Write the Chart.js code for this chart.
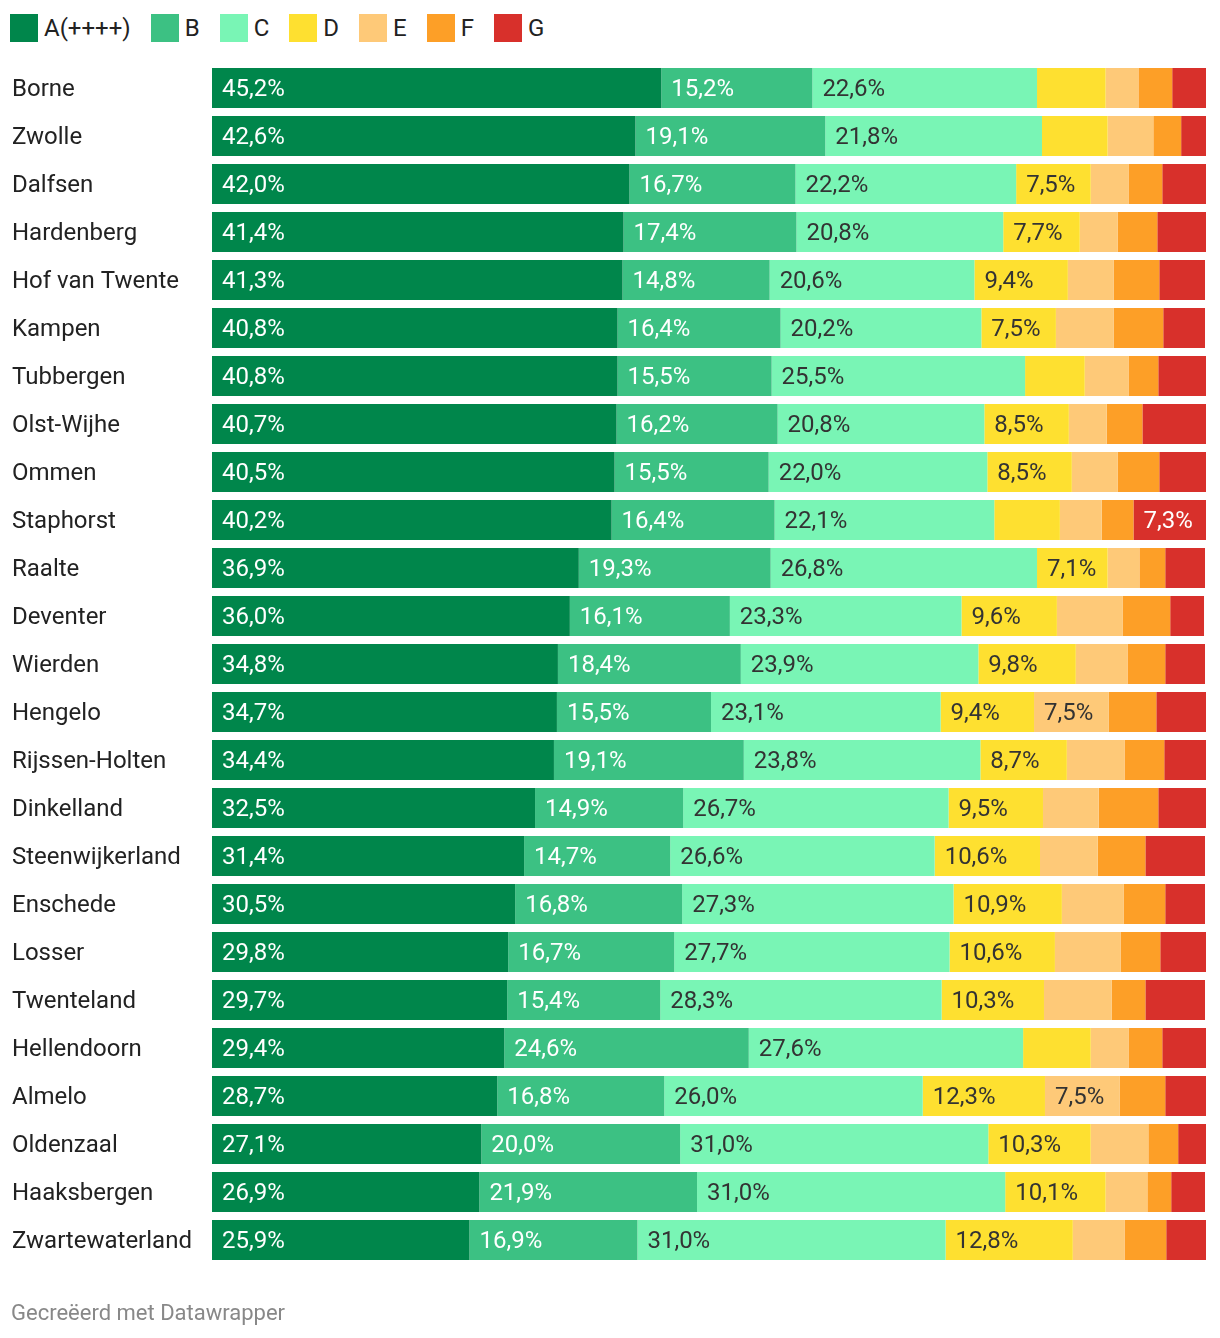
<!DOCTYPE html>
<html>
<head>
<meta charset="utf-8">
<script src="https://cdn.jsdelivr.net/npm/chart.js@4"></script>
<style>
  html, body { margin: 0; padding: 0; background: #fff; }
  body { width: 1220px; height: 1338px; position: relative; font-family: Roboto, sans-serif; overflow: hidden; }
  #legend { position: absolute; left: 10px; top: 14px; display: flex; align-items: center; font-size: 24px; color: #222; }
  #legend .item { display: flex; align-items: center; margin-right: 20px; }
  #legend .sw { width: 28px; height: 28px; margin-right: 6px; }
  #wrap { position: absolute; left: 0; top: 0; width: 1220px; height: 1338px; }
  #footer { position: absolute; left: 11px; top: 1300px; font-size: 22px; color: #888; }
</style>
</head>
<body>
<div id="legend"></div>
<div id="wrap"><canvas id="chart"></canvas></div>
<div id="footer">Gecreëerd met Datawrapper</div>
<script>
const gemeenten = ["Borne", "Zwolle", "Dalfsen", "Hardenberg", "Hof van Twente", "Kampen", "Tubbergen",
  "Olst-Wijhe", "Ommen", "Staphorst", "Raalte", "Deventer", "Wierden", "Hengelo", "Rijssen-Holten",
  "Dinkelland", "Steenwijkerland", "Enschede", "Losser", "Twenteland", "Hellendoorn", "Almelo",
  "Oldenzaal", "Haaksbergen", "Zwartewaterland"];

const labelA = ["A(++++)", "B", "C", "D", "E", "F", "G"];

const valA = [45.2, 42.6, 42.0, 41.4, 41.3, 40.8, 40.8, 40.7, 40.5, 40.2, 36.9, 36.0, 34.8, 34.7, 34.4, 32.5, 31.4, 30.5, 29.8, 29.7, 29.4, 28.7, 27.1, 26.9, 25.9];
const valB = [15.2, 19.1, 16.7, 17.4, 14.8, 16.4, 15.5, 16.2, 15.5, 16.4, 19.3, 16.1, 18.4, 15.5, 19.1, 14.9, 14.7, 16.8, 16.7, 15.4, 24.6, 16.8, 20.0, 21.9, 16.9];
const valC = [22.6, 21.8, 22.2, 20.8, 20.6, 20.2, 25.5, 20.8, 22.0, 22.1, 26.8, 23.3, 23.9, 23.1, 23.8, 26.7, 26.6, 27.3, 27.7, 28.3, 27.6, 26.0, 31.0, 31.0, 31.0];
const valD = [6.9, 6.6, 7.5, 7.7, 9.4, 7.5, 6.0, 8.5, 8.5, 6.6, 7.1, 9.6, 9.8, 9.4, 8.7, 9.5, 10.6, 10.9, 10.6, 10.3, 6.8, 12.3, 10.3, 10.1, 12.8];
const valE = [3.3, 4.6, 3.8, 3.8, 4.6, 5.8, 4.4, 3.8, 4.6, 4.2, 3.2, 6.6, 5.2, 7.5, 5.8, 5.6, 5.8, 6.2, 6.6, 6.8, 3.8, 7.5, 5.8, 4.2, 5.2];
const valF = [3.4, 2.8, 3.4, 4.0, 4.6, 5.0, 3.0, 3.6, 4.2, 3.2, 2.6, 4.8, 3.8, 4.8, 4.0, 6.0, 4.8, 4.2, 4.0, 3.4, 3.4, 4.6, 3.0, 2.4, 4.2];
const valG = [3.4, 2.6, 4.5, 5.0, 4.6, 4.2, 4.8, 6.4, 4.8, 7.3, 4.0, 3.4, 4.0, 5.0, 4.2, 4.9, 6.0, 4.0, 4.6, 6.0, 4.4, 4.2, 2.8, 3.4, 4.0];

const colors = ["#00864b", "#3cc183", "#79f5b5", "#fee030", "#fec978", "#fd9f27", "#d8302b"];
const textColors = ["#fff", "#fff", "#333", "#333", "#333", "#333", "#fff"];

// html legend
const legendEl = document.getElementById("legend");
labelA.forEach((name, i) => {
  const item = document.createElement("div");
  item.className = "item";
  item.innerHTML = `<div class="sw" style="background:${colors[i]}"></div><span>${name}</span>`;
  legendEl.appendChild(item);
});

const allValues = [valA, valB, valC, valD, valE, valF, valG];

const valueLabels = {
  id: "valueLabels",
  afterDatasetsDraw(chart) {
    const ctx = chart.ctx;
    ctx.save();
    ctx.font = "24px Roboto, sans-serif";
    ctx.textBaseline = "middle";
    ctx.textAlign = "left";
    chart.data.datasets.forEach((ds, di) => {
      const meta = chart.getDatasetMeta(di);
      meta.data.forEach((bar, i) => {
        const v = ds.data[i];
        if (v < 7) return;
        const left = Math.min(bar.x, bar.base);
        ctx.fillStyle = textColors[di];
        ctx.fillText(v.toFixed(1).replace(".", ",") + "%", left + 10, bar.y + 2);
      });
    });
    ctx.restore();
  }
};

const ctx = document.getElementById("chart").getContext("2d");
new Chart(ctx, {
  type: "bar",
  data: {
    labels: gemeenten,
    datasets: labelA.map((name, i) => ({
      label: name,
      data: allValues[i],
      backgroundColor: colors[i],
      borderWidth: 0,
      categoryPercentage: 1,
      barPercentage: 40 / 48,
    })),
  },
  options: {
    indexAxis: "y",
    responsive: true,
    maintainAspectRatio: false,
    animation: false,
    layout: {
      padding: { left: 12, right: 14, top: 64, bottom: 74 },
    },
    scales: {
      x: {
        stacked: true,
        min: 0,
        max: 100,
        display: false,
      },
      y: {
        stacked: true,
        grid: { display: false },
        border: { display: false },
        ticks: {
          crossAlign: "far",
          padding: 0,
          labelOffset: 2,
          color: "#222",
          font: { family: "Roboto, sans-serif", size: 24 },
        },
        afterFit: (scale) => { scale.width = 200; },
      },
    },
    plugins: {
      legend: { display: false },
      tooltip: { enabled: false },
    },
  },
  plugins: [valueLabels],
});
</script>
</body>
</html>
